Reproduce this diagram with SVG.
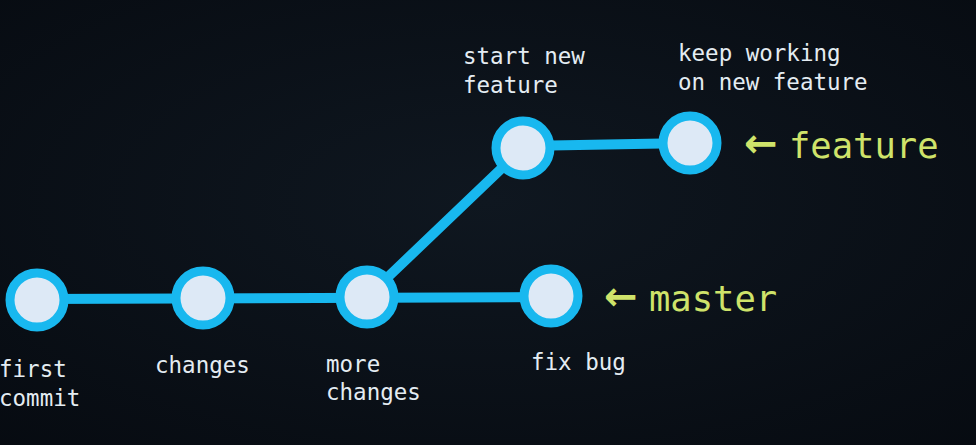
<svg xmlns="http://www.w3.org/2000/svg" width="976" height="445" viewBox="0 0 976 445">
<defs>
<radialGradient id="bg" cx="0.5" cy="0.45" r="0.8">
<stop offset="0" stop-color="#0f1720"/>
<stop offset="1" stop-color="#060a10"/>
</radialGradient>
</defs>
<style>
.edge{stroke:#18b8ef;stroke-width:10;fill:none;stroke-linecap:round}
.commit{fill:#dde9f6;stroke:#18b8ef;stroke-width:9}
.t{font-family:"DejaVu Sans Mono","Liberation Mono",monospace;font-size:22.5px;fill:#e4ecf2}
.ref{font-family:"DejaVu Sans Mono","Liberation Mono",monospace;font-size:35.5px;fill:#cfe36a}
.arr{font-family:"DejaVu Sans",sans-serif;font-size:40px;font-weight:bold;fill:#cfe36a}
</style>
<rect width="976" height="445" fill="url(#bg)"/>
<g id="connectors">
<line class="edge" x1="37" y1="299" x2="551" y2="297"/>
<line class="edge" x1="367" y1="297" x2="523" y2="148"/>
<line class="edge" x1="523" y1="146" x2="690" y2="143"/>
</g>
<g id="c1"><circle class="commit" cx="37" cy="300" r="27"/><text class="t" x="-1" y="377">first</text><text class="t" x="-1" y="406">commit</text></g>
<g id="c2"><circle class="commit" cx="203" cy="298" r="27"/><text class="t" x="155" y="373">changes</text></g>
<g id="c3"><circle class="commit" cx="367" cy="297" r="27"/><text class="t" x="326" y="372">more</text><text class="t" x="326" y="400">changes</text></g>
<g id="c4"><circle class="commit" cx="551" cy="296" r="27"/><text class="t" x="531" y="370">fix bug</text></g>
<g id="c5"><circle class="commit" cx="523" cy="148" r="27"/><text class="t" x="463" y="64">start new</text><text class="t" x="463" y="93">feature</text></g>
<g id="c6"><circle class="commit" cx="690" cy="143" r="27"/><text class="t" x="678" y="61">keep working</text><text class="t" x="678" y="90">on new feature</text></g>
<g id="feature"><text class="arr" x="744" y="157">←</text><text class="ref" x="789" y="158">feature</text></g>
<g id="master"><text class="arr" x="604" y="310">←</text><text class="ref" x="649" y="311">master</text></g>
</svg>
